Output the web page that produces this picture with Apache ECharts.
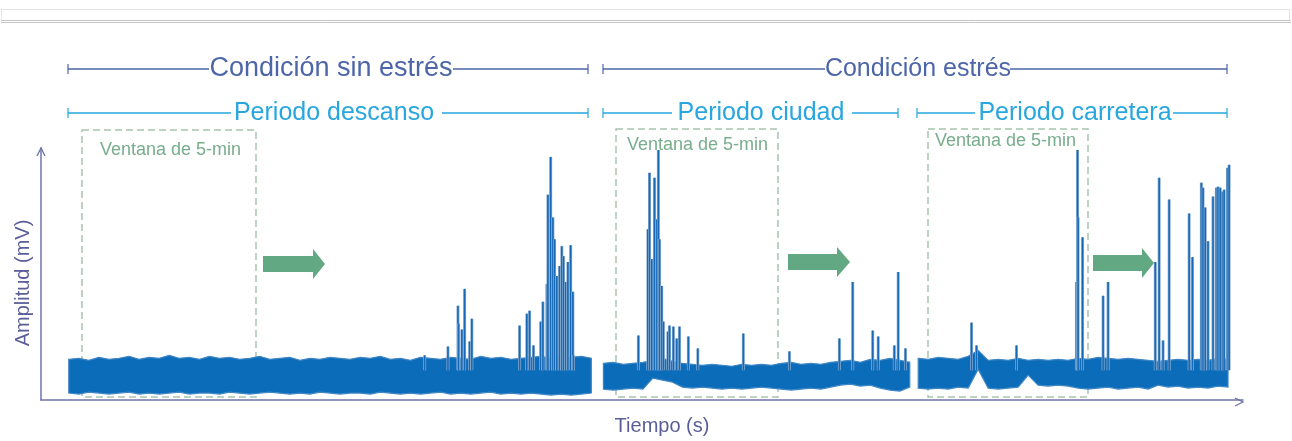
<!DOCTYPE html>
<html><head><meta charset="utf-8">
<script src="https://cdn.jsdelivr.net/npm/echarts@6/dist/echarts.min.js"></script>
<style>html,body{margin:0;padding:0;background:#fff}#c{width:1292px;height:441px}</style>
</head><body><div id="c"></div>
<script>
// ---- data (time in s, amplitude in mV) ----
const segStart = [50, 1013, 1580];
const segStep = [18.1, 17.8, 18];
const top1 = [0.41,0.42,0.40,0.43,0.41,0.42,0.44,0.41,0.43,0.42,0.45,0.42,0.43,0.41,0.44,0.42,0.43,0.41,0.42,0.44,0.41,0.42,0.43,0.40,0.42,0.41,0.43,0.42,0.41,0.43,0.42,0.44,0.41,0.42,0.40,0.43,0.42,0.41,0.43,0.42,0.41,0.44,0.42,0.43,0.41,0.42,0.43,0.44,0.42,0.45,0.43,0.44,0.42];
const bottom1 = [0.07,0.06,0.08,0.07,0.06,0.07,0.08,0.06,0.07,0.06,0.07,0.08,0.06,0.07,0.07,0.06,0.08,0.07,0.06,0.07,0.08,0.07,0.06,0.07,0.06,0.08,0.07,0.06,0.07,0.07,0.06,0.08,0.07,0.06,0.07,0.06,0.07,0.08,0.06,0.07,0.06,0.07,0.08,0.06,0.07,0.06,0.07,0.06,0.05,0.06,0.05,0.06,0.07];
const top2 = [0.37,0.38,0.36,0.37,0.38,0.40,0.42,0.39,0.37,0.36,0.35,0.36,0.35,0.34,0.36,0.35,0.36,0.35,0.37,0.38,0.36,0.37,0.36,0.38,0.39,0.40,0.38,0.41,0.40,0.42,0.40,0.38];
const bottom2 = [0.11,0.10,0.11,0.12,0.11,0.22,0.20,0.18,0.13,0.12,0.13,0.12,0.11,0.12,0.11,0.12,0.13,0.12,0.11,0.10,0.11,0.12,0.11,0.13,0.15,0.16,0.14,0.15,0.12,0.10,0.09,0.13];
const top3 = [0.42,0.41,0.43,0.42,0.41,0.44,0.50,0.40,0.41,0.40,0.42,0.40,0.41,0.40,0.41,0.40,0.42,0.41,0.43,0.42,0.41,0.42,0.41,0.40,0.39,0.40,0.41,0.40,0.41,0.40,0.42,0.41];
const bottom3 = [0.12,0.11,0.12,0.11,0.13,0.12,0.31,0.12,0.11,0.12,0.13,0.25,0.15,0.14,0.15,0.14,0.12,0.11,0.12,0.13,0.11,0.12,0.13,0.11,0.15,0.13,0.14,0.12,0.13,0.12,0.14,0.13];
const spikeTimes = [691,733,751,752,758,763,772,776,862,875,880,887,900,904,911,913,918,922,925,929,934,938,941,945,949,954,958,959,
  1076,1093,1096,1100,1105,1109,1112,1114,1118,1121,1129,1132,1139,1145,1150,1166,1183,1265,1348,1438,1462,1498,1508,1537,1544,1557,
  1676,1685,1757,1865,1867,1868,1876,1913,1922,2007,2014,2021,2032,2068,2074,2090,2093,2097,2102,2111,2117,2120,2124,2128,2131,2137,2140];
const spikePeaks = [0.45,0.54,0.95,0.77,0.71,1.12,0.59,0.82,0.75,0.87,0.90,0.55,0.79,0.99,1.17,2.07,2.45,1.84,1.62,1.25,1.35,1.55,1.45,1.19,1.39,1.56,1.09,0.45,
  0.65,1.72,2.29,1.42,2.24,1.82,2.52,1.62,1.15,0.79,0.69,0.75,0.74,0.62,0.74,0.64,0.52,0.67,0.49,0.62,1.19,0.70,0.64,0.55,1.29,0.52,
  0.78,0.55,0.55,1.19,2.52,1.84,1.64,1.05,1.19,1.39,2.24,0.60,2.02,1.88,1.44,2.19,2.14,1.94,1.60,2.05,2.14,2.15,2.14,2.10,2.12,2.34,2.37];
const groupLabels = ['Condición sin estrés', 'Condición estrés'];
const periodLabels = ['Periodo descanso', 'Periodo ciudad', 'Periodo carretera'];
const windowLabel = 'Ventana de 5-min';

const tops = [top1, top2, top3], bottoms = [bottom1, bottom2, bottom3];
const bandColor = '#0b6cb9';
const axisColor = '#6f73a8', nameColor = '#5a5e98';
const condColor = '#4d66a8', perColor = '#27a6df';
const boxColor = '#a6c4b0', winColor = '#78ad8d', arrowColor = '#62a883';

const chart = echarts.init(document.getElementById('c'));

function bandItem(params, api) {
  const k = params.dataIndex;
  const tp = tops[k], bt = bottoms[k];
  const pts = [];
  for (let i = 0; i < tp.length; i++) pts.push(api.coord([segStart[k] + i * segStep[k], tp[i]]));
  for (let i = bt.length - 1; i >= 0; i--) pts.push(api.coord([segStart[k] + i * segStep[k], bt[i]]));
  return {type: 'polygon', shape: {points: pts}, style: {fill: bandColor, stroke: '#3f86c4', lineWidth: 1.2}};
}
function spikeItem(params, api) {
  const t = api.value(0), p = api.value(1);
  const a = api.coord([t, 0.3]), b = api.coord([t, p]);
  return {type: 'group', children: [
    {type: 'line', shape: {x1: a[0], y1: a[1], x2: b[0], y2: b[1]}, style: {stroke: '#8aaed2', lineWidth: 3}},
    {type: 'line', shape: {x1: a[0], y1: a[1], x2: b[0], y2: b[1]}, style: {stroke: '#1769b5', lineWidth: 1.6}}
  ]};
}

function bracket(x1, x2, xa, xb, y, color) {
  return [
    {type: 'line', shape: {x1: x1, y1: y, x2: xa, y2: y}, style: {stroke: color, lineWidth: 1.5}},
    {type: 'line', shape: {x1: xb, y1: y, x2: x2, y2: y}, style: {stroke: color, lineWidth: 1.5}},
    {type: 'line', shape: {x1: x1, y1: y - 5, x2: x1, y2: y + 5}, style: {stroke: color, lineWidth: 1.2}},
    {type: 'line', shape: {x1: x2, y1: y - 5, x2: x2, y2: y + 5}, style: {stroke: color, lineWidth: 1.2}}
  ];
}
function label(text, x, y, color, size) {
  return {type: 'text', x: x, y: y, style: {text: text, fill: color, font: size + 'px "Liberation Sans", Arial, sans-serif', align: 'center', verticalAlign: 'middle'}};
}
function box(x, y, w, h, tx, ty) {
  return [
    {type: 'rect', shape: {x: x, y: y, width: w, height: h}, style: {fill: null, stroke: boxColor, lineWidth: 1.5, lineDash: [7, 4]}},
    {type: 'text', x: tx, y: ty, style: {text: windowLabel, fill: winColor, font: '18px "Liberation Sans", Arial, sans-serif', align: 'left', verticalAlign: 'middle'}}
  ];
}
function arrow(x0, xh, x1, yc, sh, hh) {
  return {type: 'polygon', shape: {points: [[x0, yc - sh], [xh, yc - sh], [xh, yc - hh], [x1, yc], [xh, yc + hh], [xh, yc + sh], [x0, yc + sh]]}, style: {fill: arrowColor}};
}

const graphics = [].concat(
  [{type: 'rect', shape: {x: 1.5, y: 9.5, width: 1288, height: 11}, style: {fill: null, stroke: '#e4e4e4', lineWidth: 1}},
   {type: 'line', shape: {x1: 1, y1: 20.5, x2: 1291, y2: 20.5}, style: {stroke: '#c6c6c6', lineWidth: 1}},
   {type: 'line', shape: {x1: 1, y1: 22.5, x2: 1291, y2: 22.5}, style: {stroke: '#c6c6c6', lineWidth: 1}}],
  bracket(68, 588, 209, 453, 69, condColor), [label(groupLabels[0], 331, 69, condColor, 27)],
  bracket(603, 1227, 825, 1010, 69, condColor), [label(groupLabels[1], 918, 69, condColor, 25)],
  bracket(68, 588, 231, 442, 113, perColor), [label(periodLabels[0], 334, 113, perColor, 25)],
  bracket(603, 898, 672, 852, 113, perColor), [label(periodLabels[1], 761, 113, perColor, 25)],
  bracket(917, 1227, 975, 1173, 113, perColor), [label(periodLabels[2], 1075, 113, perColor, 25)],
  box(82, 130, 174, 267, 100, 150), box(616, 129, 162, 268, 627, 145), box(928, 129, 160, 268, 935, 141),
  [arrow(263, 313, 325, 264, 8, 15), arrow(788, 837, 850, 262, 8, 15), arrow(1093, 1142, 1154, 263, 8, 15)],
  [{type: 'polyline', shape: {points: [[37, 156], [41, 148], [45, 156]]}, style: {stroke: axisColor, lineWidth: 1.3, fill: null}},
   {type: 'polyline', shape: {points: [[1235, 398], [1243, 402], [1235, 406]]}, style: {stroke: axisColor, lineWidth: 1.3, fill: null}}]
);

chart.setOption({
  animation: false,
  backgroundColor: '#fff',
  grid: {left: 41, right: 49, top: 148, bottom: 39},
  xAxis: {type: 'value', min: 0, max: 2165,
    axisLine: {show: true, lineStyle: {color: axisColor, width: 1.5}}, axisTick: {show: false}, axisLabel: {show: false}, splitLine: {show: false},
    name: 'Tiempo (s)', nameLocation: 'middle', nameGap: 16,
    nameTextStyle: {color: nameColor, fontSize: 20, fontFamily: 'Liberation Sans', padding: [0, 0, 0, 40]}},
  yAxis: {type: 'value', min: 0, max: 2.54,
    axisLine: {show: true, lineStyle: {color: axisColor, width: 1.5}}, axisTick: {show: false}, axisLabel: {show: false}, splitLine: {show: false},
    name: 'Amplitud (mV)', nameLocation: 'middle', nameGap: 8,
    nameTextStyle: {color: nameColor, fontSize: 20, fontFamily: 'Liberation Sans', padding: [0, 18, 0, 0]}},
  series: [
    {type: 'custom', renderItem: bandItem, data: [[50, 0.4], [1013, 0.4], [1580, 0.4]], clip: false, z: 2},
    {type: 'custom', renderItem: spikeItem, data: spikeTimes.map((t, i) => [t, spikePeaks[i]]), clip: false, z: 3}
  ],
  graphic: graphics
});
</script></body></html>
